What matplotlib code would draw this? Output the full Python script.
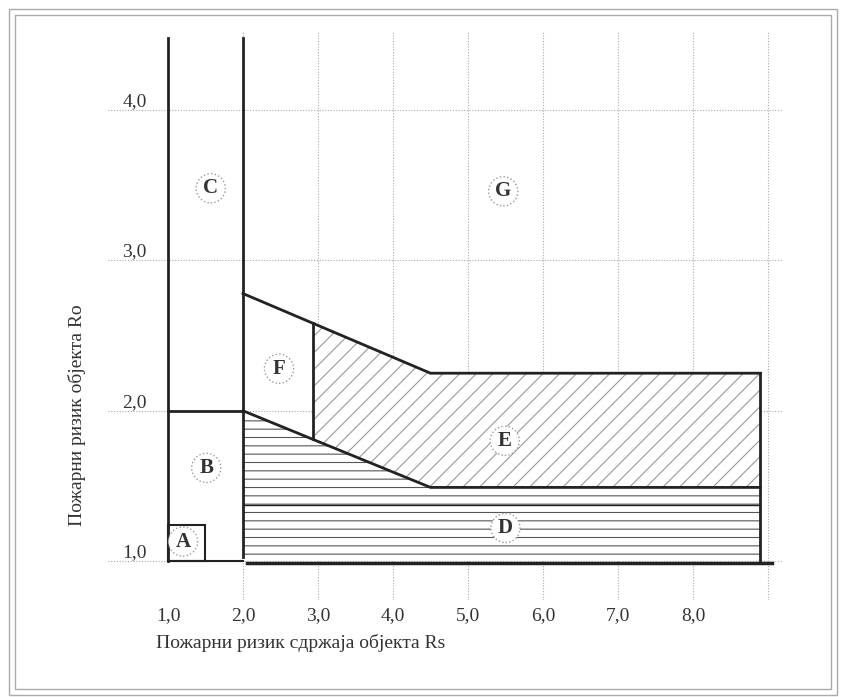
import matplotlib.pyplot as plt
import numpy as np
from matplotlib.patches import Rectangle

plt.rcParams['font.family'] = ['Liberation Serif', 'DejaVu Serif']
plt.rcParams['hatch.linewidth'] = 0.8

# boundaries (Rs on x, Ro on y)
top_x = [2.0, 4.5, 8.9]
top_y = [2.78, 2.25, 2.25]
low_x = [2.0, 4.5, 8.9]
low_y = [2.0, 1.49, 1.49]
e_left = 2.93
d_inner = 1.37
box_a = (1.5, 1.24)
y_max = 4.48

labels = ['A', 'B', 'C', 'D', 'E', 'F', 'G']
lab_x = [1.2, 1.51, 1.57, 5.5, 5.49, 2.48, 5.47]
lab_y = [1.13, 1.62, 3.48, 1.22, 1.80, 2.28, 3.46]

xticks = [1, 2, 3, 4, 5, 6, 7, 8]
xtick_labels = ['1,0', '2,0', '3,0', '4,0', '5,0', '6,0', '7,0', '8,0']
yticks = [1, 2, 3, 4]
ytick_labels = ['1,0', '2,0', '3,0', '4,0']

ink = '#222222'

fig = plt.figure(figsize=(8.41, 6.97), dpi=100)
ax = fig.add_axes([0.1284, 0.139, 0.8026, 0.815])
ax.set_xlim(0.2, 9.2)
ax.set_ylim(0.74, 4.52)
for s in ax.spines.values():
    s.set_visible(False)

# dotted grid
for gx in range(2, 10):
    ax.axvline(gx, color='#aaaaaa', lw=0.8, ls=(0, (1, 1.5)), zorder=0)
for gy in range(1, 5):
    ax.axhline(gy, color='#aaaaaa', lw=0.8, ls=(0, (1, 1.5)), zorder=0)

# region D (horizontal hatch)
xs = np.linspace(low_x[0], low_x[-1], 400)
lo = np.interp(xs, low_x, low_y)
ax.fill_between(xs, 1.0, lo, facecolor='white', edgecolor='#555555',
                hatch='--', lw=0, zorder=1)
ax.plot([low_x[0], low_x[-1]], [d_inner, d_inner], color=ink, lw=1, zorder=2)

# region E (diagonal hatch)
xe = np.linspace(e_left, top_x[-1], 400)
ax.fill_between(xe, np.interp(xe, low_x, low_y), np.interp(xe, top_x, top_y),
                facecolor='white', edgecolor='#999999', hatch='//', lw=0, zorder=1)

# outlines
ax.plot(top_x, top_y, color=ink, lw=2, zorder=3)
ax.plot(low_x, low_y, color=ink, lw=2, zorder=3)
ax.plot([top_x[-1], top_x[-1]], [1.0, top_y[-1]], color=ink, lw=2, zorder=3)
ax.plot([e_left, e_left], [np.interp(e_left, low_x, low_y), np.interp(e_left, top_x, top_y)],
        color=ink, lw=2, zorder=3)
ax.plot([1, 1], [1, y_max], color=ink, lw=2, zorder=3)
ax.plot([2, 2], [1.03, y_max], color=ink, lw=2, zorder=3)
ax.plot([1, 2], [2, 2], color=ink, lw=2, zorder=3)
ax.plot([1, 2], [1, 1], color=ink, lw=1.5, zorder=3)
ax.plot([2.05, 9.05], [0.985, 0.985], color=ink, lw=2.5, zorder=3)
ax.add_patch(Rectangle((1, 1), box_a[0] - 1, box_a[1] - 1, fill=False,
                       edgecolor=ink, lw=1.5, zorder=3))

# circled region labels
for t, x, y in zip(labels, lab_x, lab_y):
    ax.text(x, y, t, ha='center', va='center', fontsize=15, fontweight='bold',
            color='#333333', zorder=5,
            bbox=dict(boxstyle='circle,pad=0.22', facecolor='white',
                      edgecolor='#999999', ls=':', lw=1))

ax.set_xticks(xticks)
ax.set_xticklabels(xtick_labels)
ax.set_yticks(yticks)
ax.set_yticklabels(ytick_labels)
ax.tick_params(length=0, labelsize=14, labelcolor='#333333')
ax.tick_params(axis='x', pad=5)
ax.tick_params(axis='y', pad=-28)
for t in ax.get_yticklabels():
    t.set_va('bottom')

fig.text(0.092, 0.405, 'Пожарни ризик објекта Ro', rotation=90, ha='center',
         va='center', fontsize=14, color='#333333')
fig.text(0.358, 0.077, 'Пожарни ризик сдржаја објекта Rs', ha='center',
         va='center', fontsize=14, color='#333333')

# double frame round the picture
fig.patches.append(Rectangle((9 / 841, 2 / 697), 828 / 841, 686 / 697, fill=False,
                             edgecolor='#aaaaaa', lw=1, transform=fig.transFigure))
fig.patches.append(Rectangle((15 / 841, 8 / 697), 816 / 841, 674 / 697, fill=False,
                             edgecolor='#aaaaaa', lw=1, transform=fig.transFigure))

fig.savefig('out.png', dpi=100)
